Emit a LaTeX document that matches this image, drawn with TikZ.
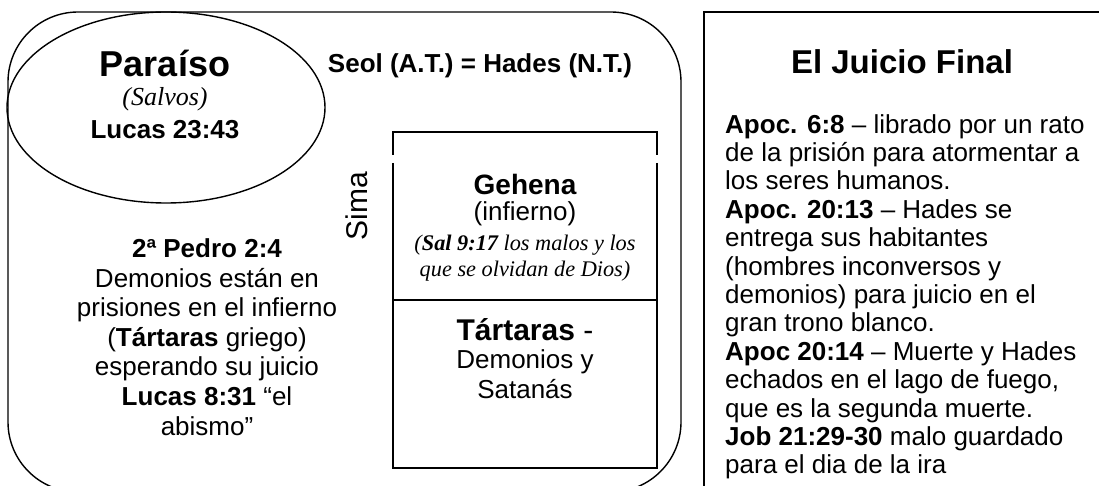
\documentclass[tikz,border=0pt]{standalone}
\usepackage{fontspec}
\setmainfont{Liberation Sans}
\newfontfamily\tnr{Liberation Serif}
\begin{document}
\begin{tikzpicture}[x=1pt,y=-1pt,
  shape line/.style={draw=black,line width=1.4pt},
  body/.style={inner sep=0pt,font=\fontsize{26}{29.6}\selectfont},
  bodyb/.style={body,font=\fontsize{26}{29.6}\selectfont\bfseries},
  head/.style={inner sep=0pt,font=\fontsize{33}{38}\selectfont\bfseries},
  serifit/.style={inner sep=0pt,font=\fontsize{26}{30}\selectfont\tnr\itshape},
  serifsm/.style={inner sep=0pt,font=\fontsize{22.3}{25.5}\selectfont\tnr\itshape}]
\clip (0,0) rectangle (1099,486);
% outer Seol/Hades region
\draw[shape line,rounded corners=70pt] (8,12) rectangle (681,492);
% Paraiso ellipse
\draw[shape line] (166,107.5) ellipse [x radius=159, y radius=95.5];
\node[inner sep=0pt,font=\fontsize{36}{40}\selectfont\bfseries] (par) at (165,63) {Paraíso};
\node[serifit] (salv) at (165,99) {(Salvos)};
\node[bodyb] (luc) at (165,130) {Lucas 23:43};
% title of region
\node[bodyb] (seol) at (480,66) {Seol (A.T.) = Hades (N.T.)};
% Sima
\node[body,rotate=90,font=\fontsize{30}{34}\selectfont] (sima) at (357,206) {Sima};
% Gehena box
\draw[shape line] (393,155) -- (393,132) -- (657,132) -- (657,155);
\draw[shape line] (393,163) -- (393,300);
\draw[shape line] (657,163) -- (657,300);
\draw[shape line] (393,300) rectangle (657,468);
\node[inner sep=0pt,font=\fontsize{28}{32}\selectfont\bfseries] (geh) at (525,184) {Gehena};
\node[body] (inf) at (525,214) {(infierno)};
\node[serifsm] (sal1) at (525,245) {(\textbf{Sal 9:17} los malos y los};
\node[serifsm] (sal2) at (525,271) {que se olvidan de Dios)};
\node[inner sep=0pt,font=\fontsize{30}{34}\selectfont] (tar) at (525,330) {\textbf{Tártaras} -};
\node[body,align=center] (tar2) at (525,374) {Demonios y\\Satanás};
% left text block
\node[body,align=center] (ped) at (207,337) {\textbf{2ª Pedro 2:4}\\Demonios están en\\prisiones en el infierno\\(\textbf{Tártaras} griego)\\esperando su juicio\\\textbf{Lucas 8:31} “el\\abismo”};
% right panel
\draw[line width=1.8pt] (704,495) -- (704,12) -- (1105,12);
\node[head] (jf) at (902,62) {El Juicio Final};
\node[body,anchor=north west,align=left,font=\fontsize{26}{28.4}\selectfont] (txt) at (725,114) {\textbf{Apoc. 6:8} – librado por un rato\\de la prisión para atormentar a\\los seres humanos.\\\textbf{Apoc. 20:13} – Hades se\\entrega sus habitantes\\(hombres inconversos y\\demonios) para juicio en el\\gran trono blanco.\\\textbf{Apoc 20:14} – Muerte y Hades\\echados en el lago de fuego,\\que es la segunda muerte.\\\textbf{Job 21:29-30} malo guardado\\para el dia de la ira};
\end{tikzpicture}
\end{document}
